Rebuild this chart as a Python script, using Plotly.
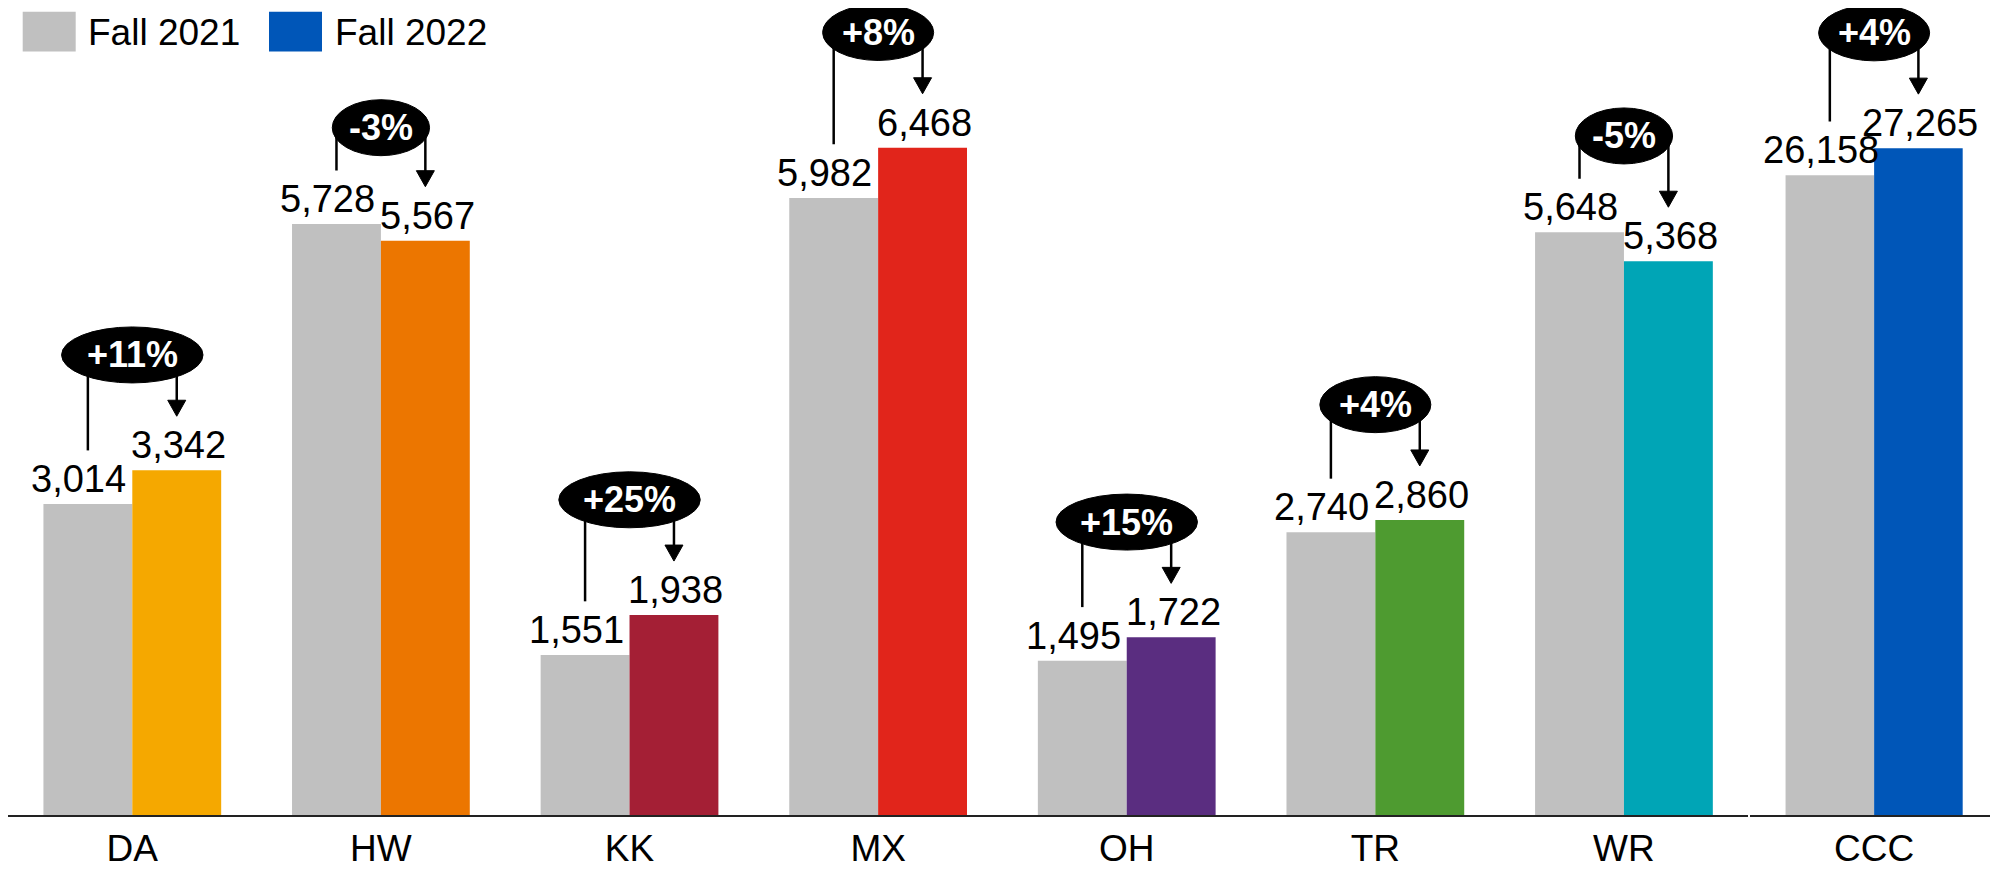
import plotly.graph_objects as go

# ---------------- data ----------------
campuses = ["DA", "HW", "KK", "MX", "OH", "TR", "WR"]
district = ["CCC"]
fall_2021 = [3014, 5728, 1551, 5982, 1495, 2740, 5648]
fall_2022 = [3342, 5567, 1938, 6468, 1722, 2860, 5368]
district_2021 = [26158]
district_2022 = [27265]
change_labels = ["+11%", "-3%", "+25%", "+8%", "+15%", "+4%", "-5%"]
district_change = ["+4%"]
series_names = ["Fall 2021", "Fall 2022"]

# ---------------- style ----------------
GRAY = "#C0C0C0"
campus_colors = ["#F5A800", "#EC7600", "#A41F35", "#E1251B", "#5A2D80", "#4E9B30", "#00A5B6"]
district_color = "#0056B8"
FONT = "Arial, Liberation Sans, sans-serif"

PAGE_PAD = 8                     # default body margin of the html page
W, H = 1998 - PAGE_PAD, 869 - PAGE_PAD
M_L, M_R, M_T, M_B = 0, 0, 0, 49
PLOT_W = W - M_L - M_R
PLOT_H = H - M_T - M_B
PPU1 = 0.1038                    # px per unit, campus panel
PPU2 = 0.02461                   # px per unit, district panel
Y1_MAX = PLOT_H / PPU1
Y2_MAX = PLOT_H / PPU2
BARGAP = 0.285
BW = (1 - BARGAP) / 2            # bar width in category units
LINE_GAP = 54                    # px between bar top and bracket end
OFF_UP, OFF_DOWN = 116, 97       # px from taller bar top to ellipse centre
ELL_H = 56
PCT_SIZE = 36
VAL_SIZE = 38

bold_w = {"+": 0.584, "-": 0.333, "%": 0.889}


def text_w(s, size):
    return sum(bold_w.get(c, 0.556) for c in s) * size


fig = go.Figure()
shapes = []
annotations = []


def add_panel(cats, v21, v22, colors, changes, xr, yr, ymax):
    xs = list(range(len(cats)))
    fig.add_trace(go.Bar(
        x=xs, y=v21, name=series_names[0], marker_color=GRAY, marker_line_width=0,
        showlegend=False, xaxis=xr, yaxis=yr, hoverinfo="skip"))
    fig.add_trace(go.Bar(
        x=xs, y=v22, name=series_names[1], marker_color=colors, marker_line_width=0,
        showlegend=False, xaxis=xr, yaxis=yr, hoverinfo="skip"))
    ppu = PLOT_H / ymax
    xref = "x" if xr == "x" else "x2"
    yref = "y" if yr == "y" else "y2"
    for i, (a, b, lab) in enumerate(zip(v21, v22, changes)):
        gx = i - BW / 2
        nx = i + BW / 2
        # value labels
        annotations.append(dict(x=gx, y=a, xref=xref, yref=yref, text=f"{a:,}",
                                showarrow=False, xanchor="center", yanchor="bottom",
                                xshift=-9, yshift=2,
                                font=dict(family=FONT, size=VAL_SIZE, color="#000")))
        annotations.append(dict(x=nx, y=b, xref=xref, yref=yref, text=f"{b:,}",
                                showarrow=False, xanchor="center", yanchor="bottom",
                                xshift=2, yshift=2,
                                font=dict(family=FONT, size=VAL_SIZE, color="#000")))
        off = OFF_UP if b >= a else OFF_DOWN
        yc = max(a, b) + off / ppu
        # left bracket line (from above Fall 2021 label up to ellipse)
        shapes.append(dict(type="line", xref=xref, yref=yref, x0=gx, x1=gx,
                           y0=a + LINE_GAP / ppu, y1=yc,
                           line=dict(color="#000", width=2.5), layer="above"))
        # right bracket line down to arrow
        shapes.append(dict(type="line", xref=xref, yref=yref, x0=nx, x1=nx,
                           y0=b + (LINE_GAP + 14) / ppu, y1=yc,
                           line=dict(color="#000", width=2.5), layer="above"))
        # arrow head
        shapes.append(dict(type="path", xref=xref, yref=yref,
                           xsizemode="pixel", ysizemode="pixel", xanchor=nx, yanchor=b,
                           path=f"M -9,{LINE_GAP + 16} L 9,{LINE_GAP + 16} L 0,{LINE_GAP} Z",
                           fillcolor="#000", line=dict(color="#000", width=1), layer="above"))
        # ellipse
        ew = text_w(lab, PCT_SIZE) * 1.52
        shapes.append(dict(type="circle", xref=xref, yref=yref,
                           xsizemode="pixel", ysizemode="pixel", xanchor=i, yanchor=yc,
                           x0=-ew / 2, x1=ew / 2, y0=-ELL_H / 2, y1=ELL_H / 2,
                           fillcolor="#000", line=dict(color="#000", width=1), layer="above"))
        annotations.append(dict(x=i, y=yc, xref=xref, yref=yref, text=f"<b>{lab}</b>",
                                showarrow=False, xanchor="center", yanchor="middle",
                                font=dict(family=FONT, size=PCT_SIZE, color="#fff")))


add_panel(campuses, fall_2021, fall_2022, campus_colors, change_labels, "x", "y", Y1_MAX)
add_panel(district, district_2021, district_2022, [district_color], district_change, "x2", "y2", Y2_MAX)


# ---------------- legend (drawn) ----------------
def px_x(p):
    return (p - PAGE_PAD - M_L) / PLOT_W


def px_y(p):
    return 1 - (p - PAGE_PAD - M_T) / PLOT_H


legend_items = [(series_names[0], GRAY, 22.7, 86), (series_names[1], district_color, 269, 333)]
for name, col, sx, tx in legend_items:
    shapes.append(dict(type="rect", xref="paper", yref="paper",
                       x0=px_x(sx), x1=px_x(sx + 53), y0=px_y(51.7), y1=px_y(11.7),
                       fillcolor=col, line=dict(width=0)))
    annotations.append(dict(x=px_x(tx), y=px_y(32.5), xref="paper", yref="paper", text=name,
                            showarrow=False, xanchor="left", yanchor="middle",
                            font=dict(family=FONT, size=37, color="#000")))

split = len(campuses) / (len(campuses) + len(district))
axis_common = dict(showgrid=False, zeroline=False, showline=True, linecolor="#222",
                   linewidth=2, ticks="", tickfont=dict(family=FONT, size=37, color="#000"))

fig.update_layout(
    width=W, height=H,
    margin=dict(l=M_L, r=M_R, t=M_T, b=M_B),
    paper_bgcolor="#fff", plot_bgcolor="#fff",
    barmode="group", bargap=BARGAP, bargroupgap=0,
    xaxis=dict(domain=[0, split - 0.0005], range=[-0.5, len(campuses) - 0.5],
               tickvals=list(range(len(campuses))), ticktext=campuses, **axis_common),
    xaxis2=dict(domain=[split + 0.0005, 1], range=[-0.5, 0.5], anchor="y2",
                tickvals=[0], ticktext=district, **axis_common),
    yaxis=dict(range=[0, Y1_MAX], visible=False, domain=[0, 1]),
    yaxis2=dict(range=[0, Y2_MAX], visible=False, anchor="x2", domain=[0, 1]),
    shapes=shapes, annotations=annotations,
    showlegend=False,
)

fig.write_html("out.html")
